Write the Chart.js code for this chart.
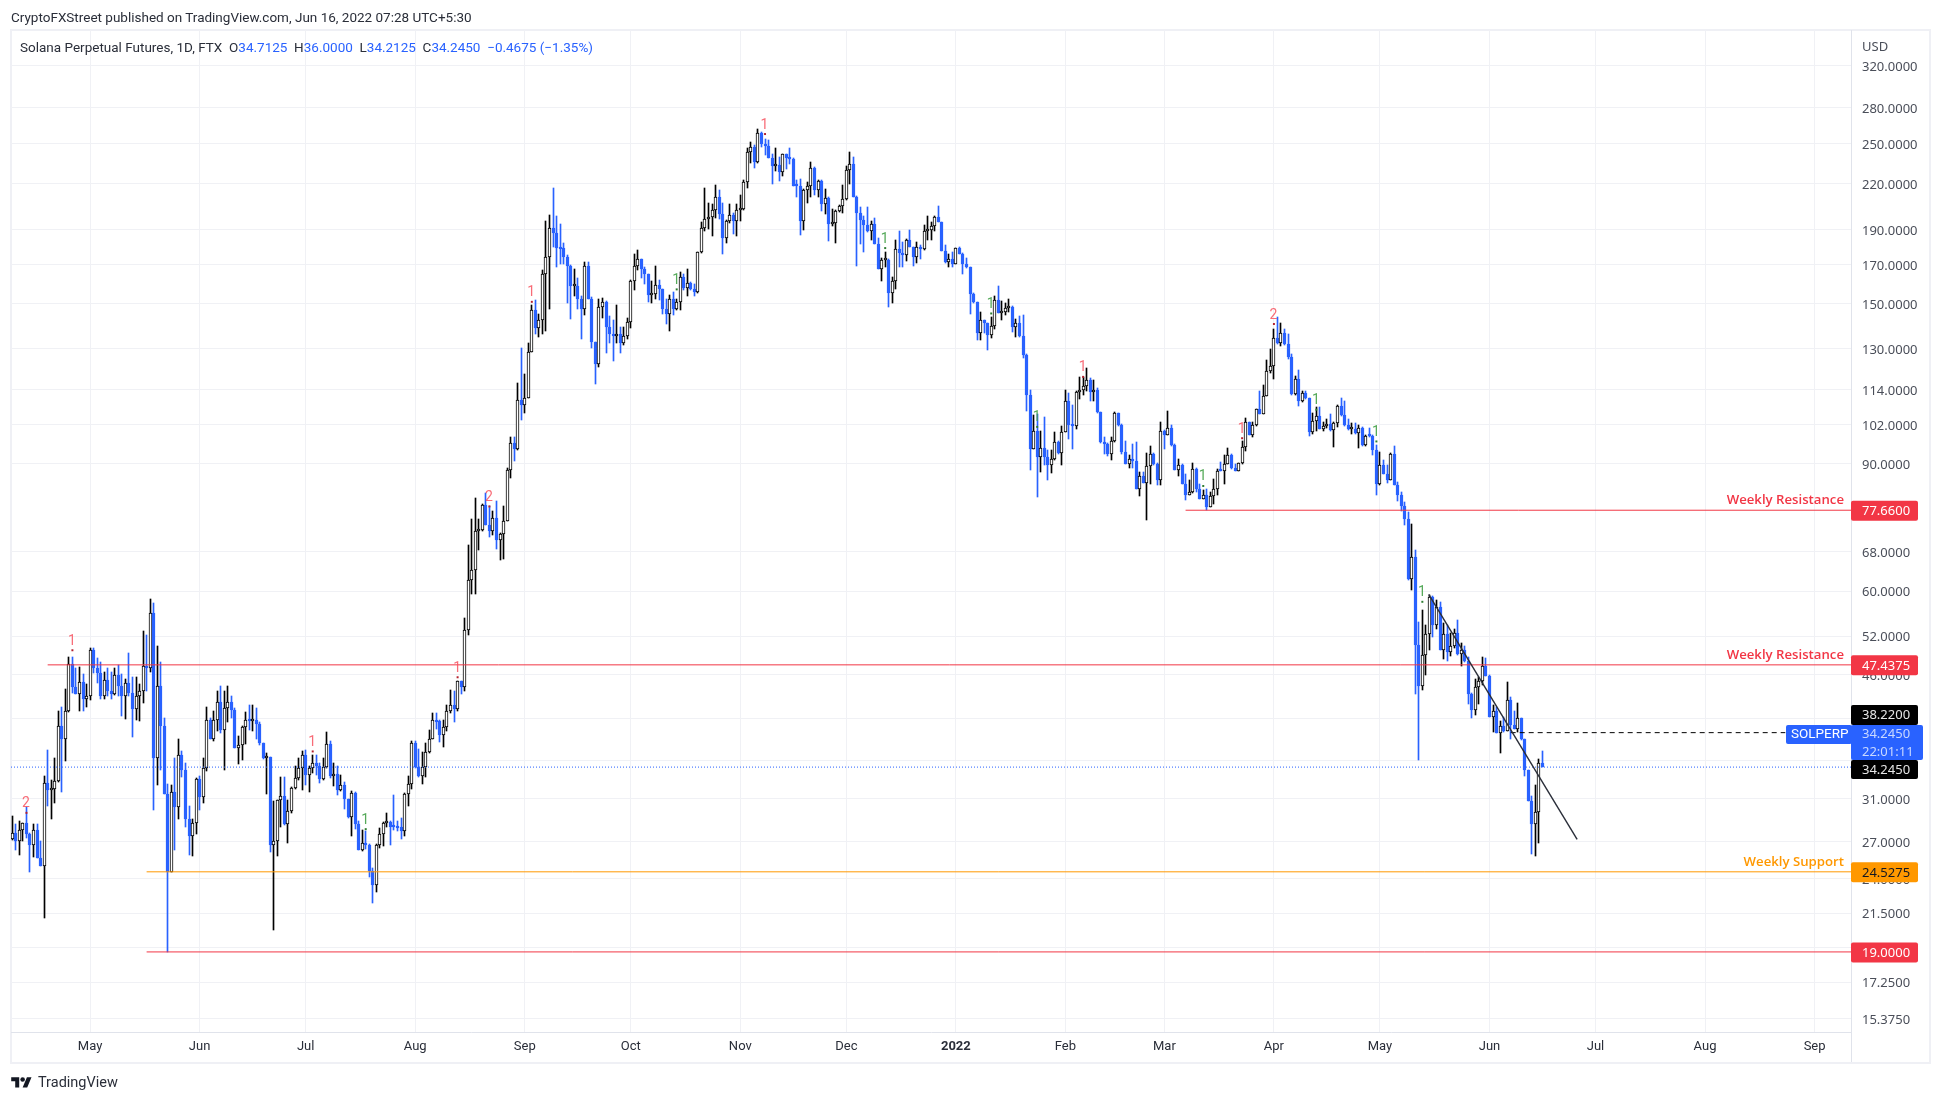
<!DOCTYPE html>
<html lang="en">
<head>
<meta charset="UTF-8" />
<title>Solana Perpetual Futures</title>
<script src="https://cdn.jsdelivr.net/npm/chart.js"></script>
<style>
  html, body { margin: 0; padding: 0; background: #fff; }
  body { width: 1940px; height: 1103px; position: relative; overflow: hidden; font-family: Roboto, sans-serif; color: #2a2e39; }
  #frame { position: absolute; left: 10px; top: 29px; width: 1917px; height: 1031px; border: 2px solid #eff0f5; box-sizing: content-box; }
  canvas { position: absolute; left: 0; top: 0; }
  #pub { position: absolute; left: 11px; top: 9px; font-size: 13.5px; white-space: nowrap; }
  #legend { position: absolute; left: 20px; top: 39px; font-size: 13.5px; white-space: pre; }
  #legend b { font-weight: 400; color: #2962ff; }
  #brand { position: absolute; left: 11px; top: 1074px; font-size: 14.5px; display: flex; align-items: center; gap: 6px; }
</style>
</head>
<body>
<div id="frame"></div>
<canvas id="chart" width="1940" height="1103"></canvas>
<div id="pub">CryptoFXStreet published on TradingView.com, Jun 16, 2022 07:28 UTC+5:30</div>
<div id="legend">Solana Perpetual Futures, 1D, FTX  O<b>34.7125</b>  H<b>36.0000</b>  L<b>34.2125</b>  C<b>34.2450</b>  <b>−0.4675 (−1.35%)</b></div>
<div id="brand"><svg width="21" height="16" viewBox="0 0 36 28"><path d="M14 22H7V11H0V4h14v18zM28 22h-8l7.5-18h8L28 22z" fill="#131722"/><circle cx="20" cy="8" r="4" fill="#131722"/></svg><span>TradingView</span></div>
<script>
// daily candles, first one is 9 Apr 2021
const opens = [27.2,27.8,27.1,28.0,28.65,27.7,26.7,28.0,25.6,25.0,
32.6,31.8,31.9,32.8,39.1,37.4,41.0,47.6,44.2,43.3,
44.9,42.5,43.0,49.7,47.0,46.2,42.9,45.2,43.7,43.3,
45.9,44.4,43.0,44.8,43.4,41.2,42.9,43.7,47.2,46.9,
56.0,35.2,44.3,39.1,31.4,24.55,31.6,30.2,35.6,33.9,
29.0,27.5,28.65,33.0,31.1,34.1,39.8,37.5,39.8,42.1,
38.5,41.3,42.1,41.1,36.4,36.8,38.9,39.8,39.7,39.8,
39.3,37.0,35.3,35.4,26.7,27.1,30.8,31.2,28.6,29.8,
32.0,33.1,34.1,35.6,33.4,34.1,34.7,34.4,33.0,34.3,
36.9,33.3,33.5,31.8,32.3,30.9,29.2,31.5,28.6,26.3,
26.9,26.7,24.6,23.5,26.7,27.7,28.65,28.75,28.35,28.35,
28.3,27.95,31.4,32.5,37.0,34.3,33.3,34.3,35.9,37.5,
39.8,39.7,37.9,38.9,40.9,41.8,41.2,45.0,44.2,53.0,
62.1,64.2,72.8,73.0,78.9,74.0,72.8,75.8,70.6,72.1,
75.1,88.2,96.2,94.3,110.2,108.5,111.0,128.6,146.9,139.0,
142.4,164.9,174.3,191.2,187.9,179.4,178.9,174.0,169.4,158.5,
158.9,152.1,147.3,169.1,152.4,132.7,123.9,148.2,150.7,139.2,
136.0,135.5,136.1,132.3,135.3,141.6,161.5,169.1,172.9,167.6,
164.9,154,154.5,159.3,157.1,147.3,145.1,152.3,147.6,150.7,
163.4,157.5,160.2,157.1,155.7,176.8,191.2,196.7,198,202.4,
210.5,199.8,184.8,195.1,199.3,195.1,202,203,221,243.6,
247.5,235.7,258.3,249.9,248.2,238.9,232.9,233.4,228,241.5,
238.4,238.2,219,218.6,195.1,215.7,218,231.2,215.7,221.8,
206.2,210,193.2,193.7,201.7,204.9,209.5,229.5,233.9,211,
200.5,195.8,193,189.2,193.4,181.2,167.6,172.2,172.6,155.1,
161.2,178.3,176.2,175.1,183.5,179.5,174.2,179.9,178.3,189.2,
189.6,192.4,197.6,194.4,177.6,171.1,172.7,170.3,178.9,176,
170.3,168.5,154.8,150.8,136.7,142.3,140.9,135.7,139.7,151.8,
145.6,146.1,147.9,148.2,139.1,141,135.3,127.3,112.3,94.5,
100.1,91.9,94.8,92.1,89.6,91.4,96.4,93.2,99.7,110.1,
101.9,101.6,113.2,114.1,115.4,117.6,113.1,114,106.2,96.6,
95.9,92.8,96.7,105.9,101.9,93.5,89.9,91.4,90.8,83.1,
86.6,84.7,89.4,93,90,85.5,100.1,98.7,100.9,95.6,
88.2,89.7,84.5,81.6,82.2,88.5,83.2,80.6,81.5,78.5,
81.3,83,88.1,87.9,89.9,92.6,88.8,88.1,90.2,95,
102.8,98.8,101.9,107.2,105.5,111.7,120.9,123,134.3,132.2,
136.7,132,126.5,112.4,118,109.9,113,111,99.7,103.2,
104.9,100.7,101.5,102.2,100.2,102.6,108.3,105.2,101.9,100.5,
100.7,99.2,100.9,95.6,98.5,98.3,94,84.3,89.8,87.3,
85.4,93,84.2,81.6,78.8,75.5,62.4,67,50.6,44.4,
48.9,52.4,58.9,53.8,57,49.8,52.4,49.5,50.4,52.5,
49.1,49.8,48,43.3,41.1,44.2,45,47.3,45.8,40.2,
41,38.2,39,38.4,42.4,39.2,38.7,40,37.4,33.9,
30.7,28.6,29.7,34.7125];
const highs = [29.3,28.55,28.8,28.7,30.2,27.8,28.55,28.55,27.05,33.3,
36.2,32.9,35.3,40.9,41.5,43.9,48.7,48.7,46.9,47.1,
46.1,44.6,50.0,50.0,48.5,47.8,46.3,46.9,46.4,46.9,
47.4,46.1,45.3,49.2,45.7,45.7,44.7,52.8,52.2,58.6,
57.8,50.3,47.8,40.1,32.5,32.3,35.3,37.4,36.0,34.7,
30.3,29.0,33.1,33.3,35.2,41.5,40.0,41.0,43.7,44.3,
43.6,44.3,43.0,41.4,37.8,39.0,40.8,41.8,41.8,41.4,
39.6,37.0,35.8,35.4,30.7,30.8,33.2,33.2,30.8,32.1,
34.4,35.3,36.1,36.2,34.4,35.6,35.6,34.7,35.3,38.3,
37.2,34.7,34.4,33.4,32.7,30.9,31.7,31.6,28.8,28.0,
27.9,26.8,24.8,26.8,28.2,28.75,29.6,28.85,31.3,28.85,
29.1,31.5,33.3,37.2,37.2,36.3,35.9,37.0,38.5,40.7,
40.7,39.8,39.8,41.8,43.8,43.7,45.1,45.1,55.0,69.6,
75.4,80.8,75.6,79.2,82.1,78.6,77.5,79.9,72.2,78.6,
88.9,98.0,98.0,116.6,130.3,119.9,132.3,149.3,151.6,145.2,
166.9,195.4,199.0,216.9,198.4,193.6,182.2,175.4,169.8,167.8,
162.8,153.8,171.3,171.3,153.2,132.7,152.4,152.9,151.4,144.2,
142.4,149.5,139.2,139.2,143.3,161.9,175.6,178.1,172.9,168.4,
164.9,161.5,169.1,161.9,157.3,152.4,154.1,155.5,152.4,165.9,
165.1,167.6,160.7,159.6,176.8,194.9,216.9,206.6,205.8,219,
215.2,206.6,196,205.8,200.1,205.8,212.2,222.6,246.6,250.9,
248.7,261.9,259,253.4,253,241.8,246.1,239.4,241.8,241.8,
246.1,238.4,222.8,223.3,216.4,221,235.4,231.7,222.3,222.6,
216.2,210.5,202.9,202.1,205.5,219,233,243.1,239.4,211.5,
204.3,198.2,203.9,195.4,197.1,185.1,173.4,176.8,172.9,163.4,
183.5,188.9,182.6,184.6,189.6,179.9,182.6,180.6,192.6,198.4,
194.7,198.4,204.7,194.9,181,175.8,176.9,178.9,179.5,176.5,
173.6,168.5,155.1,151,146.1,142.6,141.2,143.9,153.6,158.6,
151.3,150.1,152.4,148.8,142.7,144.2,144.5,127.7,114,105.1,
105.6,100.1,104.6,94,94,99.5,96.7,101.6,113.8,112.7,
108.7,113.6,118.8,118.8,122.1,118.2,117.7,114.6,106.2,98.2,
96.2,98.2,106.2,105.9,102.1,96.8,92.5,95.9,96.4,87.7,
87.7,93.2,95.3,93.2,90.3,102.9,100.3,106.5,101.9,95.8,
91.4,90,87.1,85.4,90.2,88.8,84.5,82.8,83.2,82.3,
85.9,88.6,90.7,92.5,94.7,92.9,90.1,90.4,96.8,104.1,
103,102.8,107.4,113.7,115.7,125.3,130,138.3,143.9,141.1,
138.3,136.2,127.6,119.3,121.3,113.5,113.5,111.2,105.9,107.9,
107.9,103,103.9,105.6,103,108.7,111,110.1,103.9,102.4,
102.5,101.9,101.1,98.8,100.9,98.8,95.5,93.4,91.2,89.7,
93.2,95.3,85,82.2,79.6,77.3,74.3,68.5,54.4,56.5,
53.8,59.3,59,58.3,57.9,54.2,53.8,52.5,53.2,54.7,
50.8,50.4,48.6,43.4,45.4,45.6,48.7,48.5,45.9,41.8,
41.5,39.7,40.2,44.9,42.8,41,42,40.1,37.5,33.9,
31.2,32.3,35.1,36];
const lows = [27.15,26.3,25.85,27.1,27.3,24.5,25.7,25.6,25.0,21.2,
30.3,29.0,30.5,32.7,31.6,34.9,40.8,43.4,43.3,41.0,
41.0,41.5,42.4,46.2,44.8,42.6,42.6,43.0,42.6,43.1,
43.0,40.3,39.9,43.0,37.7,39.8,39.7,42.0,43.6,46.4,
29.9,32.3,33.9,31.4,19.0,24.5,26.3,29.0,33.2,28.3,
25.85,25.8,27.7,29.9,30.5,33.8,37.4,37.2,38.4,38.2,
33.9,39.6,40.0,36.4,34.6,35.0,36.9,38.6,38.4,37.5,
36.8,35.1,31.4,26.1,20.4,25.8,28.3,28.5,26.9,29.6,
31.9,32.9,31.8,32.3,31.6,33.6,33.4,32.6,32.9,34.1,
33.1,32.2,31.3,31.7,30.0,29.1,27.5,28.1,26.3,26.2,
26.4,24.1,22.2,23.0,26.5,26.6,28.3,26.7,28.0,27.9,
27.2,27.5,30.3,31.9,34.2,33.2,32.4,33.2,35.8,37.4,
38.7,37.1,36.5,38.4,40.7,39.6,40.9,43.2,43.6,52.2,
59.4,59.5,68.4,72.8,74.0,71.2,71.7,68.7,66.2,66.4,
75.0,86.0,90.9,94.0,103.5,106.0,111.0,128.6,136.4,135.1,
136.4,137.6,147.3,179.9,168.4,170.0,170.2,150.4,143,153.9,
147.3,134,144.6,152.4,130.3,116,122.6,143.4,128.3,132.3,
124.8,132.3,128.3,131.6,133.9,138.9,156.8,166.9,162.8,159.9,
150.9,150.4,152.4,151.6,145,140.8,137.7,144.5,147.1,147.1,
156.8,153.5,156.8,153.5,155.2,176.4,189.1,190.6,186.3,196.9,
196.7,175.9,181.9,194.2,187.4,186.3,195.1,202.2,216.7,234.9,
231.3,235.2,247,241.3,238.4,219.8,229,221.8,225.2,230.5,
234,218.6,210.9,186.5,189.7,206.6,210.9,212.2,210.9,201.3,
199.8,183,192.1,181.9,200.7,200.3,209,220,210.7,169.4,
181.6,176.6,188.4,183.6,181.2,167.6,161.5,168.6,148.5,150.1,
157.3,168.6,168.6,172,179.5,169.2,170.7,173,178,184,
184,189.4,194.4,177.2,170.9,168.4,168.5,170.3,175.6,164.9,
168.2,145,150.5,133.7,133.4,136.8,129.6,134.3,138.3,145.6,
142.3,144.5,146.1,137,134.8,134.8,126,106.4,88.2,94.5,
81,87.6,89.6,85.6,87.4,91,92.9,89.6,99.5,97.3,
94.3,100.6,110.6,112.3,113.7,109.9,109.9,106,96.3,93,
92.4,91,96.6,101.6,93,89.9,88.8,88.8,83.1,81.3,
84.6,75.2,84.3,89.6,84.1,84.1,94.5,98.6,95.4,88.2,
86.6,84.3,80.2,81.4,82.1,82.3,80.4,80.6,77.7,78.4,
79.1,81.6,87.9,84.3,89.9,88.6,88,88,90.1,93.7,
98.6,98,101.7,105.5,105.5,111.7,120.3,117.9,131.8,131,
131.6,125.9,112,112.2,108.4,109.7,110.8,98.4,98.9,100.1,
100.5,99.9,101,100,95,101.3,105,101.7,100.2,98.9,
98.9,94.7,95.4,95.4,98.2,92.6,81.6,84.1,87.1,84.8,
85.4,84.1,80.1,77.4,74,62.2,60.2,43.2,35,43.8,
45.9,49.7,51.9,53.2,49.8,48.4,48.1,48.8,50,48.9,
47.3,47.9,41.9,40.1,40.4,41.9,44.5,45.8,40.2,38.3,
38.2,35.8,38.3,38.4,37.4,38.7,38.3,37.3,33.3,30.7,
26,25.8,26.9,34.2125];
const closes = [27.8,27.1,28.0,28.65,27.7,26.7,28.0,25.6,25.0,32.6,
31.8,31.9,32.8,39.1,37.4,41.0,47.6,44.2,43.3,44.9,
42.5,43.0,49.7,47.0,46.2,42.9,45.2,43.7,43.3,45.9,
44.4,43.0,44.8,43.4,41.2,42.9,43.7,47.2,46.9,56.0,
35.2,44.3,39.1,31.4,24.55,31.6,30.2,35.6,33.9,29.0,
27.5,28.65,33.0,31.1,34.1,39.8,37.5,39.8,42.1,38.5,
41.3,42.1,41.1,36.4,36.8,38.9,39.8,39.7,39.8,39.3,
37.0,35.3,35.4,26.7,27.1,30.8,31.2,28.6,29.8,32.0,
33.1,34.1,35.6,33.4,34.1,34.7,34.4,33.0,34.3,36.9,
33.3,33.5,31.8,32.3,30.9,29.2,31.5,28.6,26.3,26.9,
26.7,24.6,23.5,26.7,27.7,28.65,28.75,28.3,28.3,28.2,
27.95,31.4,32.5,37.0,34.3,33.3,34.3,35.9,37.5,39.8,
39.6,37.9,38.9,40.9,41.8,41.2,45.0,44.2,53.0,62.1,
64.2,72.8,73.0,78.9,74.0,72.8,75.8,70.6,72.1,75.1,
88.2,96.2,94.3,110.2,108.5,111.0,128.6,146.9,139.0,142.4,
164.9,174.3,191.2,187.9,179.4,178.7,174.0,169.4,158.5,158.9,
152.1,147.3,169.1,152.4,132.7,123.9,148.2,150.7,139.2,136.0,
135.5,136.1,132.3,135.3,141.6,161.5,169.1,172.9,167.6,164.9,
154,154.5,159.3,157.1,147.3,145.1,152.3,147.6,150.7,163.4,
157.5,160.2,157.1,155.7,176.8,191.2,196.7,198,202.4,210.5,
199.8,184.8,195.1,199.3,195.1,202,203,221,243.6,247.5,
235.7,258.3,249.9,248.2,238.9,232.9,233.4,228,241.5,238.4,
238.2,218.6,218.6,195.1,215.7,218,231.2,215.7,221.8,206.2,
210,193.2,193.7,201.7,204.9,209.5,229.5,233.9,211,200.5,
195.8,193,189.2,193.4,181.2,167.6,172.2,172.6,155.1,161.2,
178.3,176.2,175.1,183.5,179.5,174.2,179.9,178.3,189.2,189.6,
192.4,197.6,194.4,177.6,171.1,172.7,170.3,178.9,176,170.3,
168.5,154.8,150.8,136.7,142.3,140.9,135.7,139.7,151.8,145.6,
146.1,147.9,148.2,139.1,141,135.3,127.3,112.3,94.5,100.1,
91.9,94.8,92.1,89.6,91.4,96.4,93.2,99.7,110.1,101.9,
101.6,113.2,114.1,115.4,117.6,113.1,114,106.2,96.6,95.9,
92.8,96.7,105.9,101.9,93.5,89.9,91.4,90.8,83.1,86.6,
84.7,89.4,93,90,85.5,100.1,98.7,100.9,95.6,88.2,
89.7,84.5,81.6,82.2,88.5,83.2,80.6,81.5,78.5,81.3,
83,88.1,87.9,89.9,92.6,88.8,88.1,90.2,95,102.8,
98.8,101.9,107.2,105.5,111.7,120.9,123,134.3,132.2,136.7,
132,126.5,112.4,118,109.9,113,111,99.7,103.2,104.9,
100.7,101.5,102.2,100.2,102.6,108.3,105.2,101.9,100.5,100.7,
99.2,100.9,95.6,98.5,98.3,94,84.3,89.8,87.3,85.4,
93,84.2,81.6,78.8,75.5,62.4,67,50.6,44.4,48.9,
52.4,58.9,53.8,57,49.8,52.4,49.5,50.4,52.5,49.1,
49.8,48,43.3,41.1,44.2,45,47.3,45.8,40.2,41,
38.2,39,38.4,42.4,39.2,38.7,40,37.4,33.9,30.7,
28.6,29.7,34.7125,34.245];

// axis labels (month ticks are candle numbers)
const monthDays = [23,54,84,115,146,176,207,237,268,299,327,358,388,419,449,480,511];
const monthLabels = ['May','Jun','Jul','Aug','Sep','Oct','Nov','Dec','2022','Feb','Mar','Apr','May','Jun','Jul','Aug','Sep'];
const priceTicks = [320,280,250,220,190,170,150,130,114,102,90,68,60,52,46,40,35,31,27,24,21.5,19.25,17.25,15.375];

// drawn levels
const levelPrices = [77.66,47.4375,24.5275,19];
const levelStart = [333,11,39,39];
const levelNames = ['Weekly Resistance','Weekly Resistance','Weekly Support',''];
const levelColors = ['#f23645','#f23645','#ff9800','#f23645'];
const trendDays = [401.8,443.8];
const trendPrices = [59.4,27.2];
const lastPrice = 34.245;
const refPrice = 38.22;
const refDays = [425,502.7];

// numbered signals over the candles
const signalDays = [5,18,86,101,127,136,148,189,214,248,278,291,304,338,349,358,370,387,400];
const signalPrices = [29.6,49.7,36.0,28.1,45.6,78.6,150.9,157,257.6,179.1,145.4,101.3,118.8,83.9,97.7,140.6,107,96.7,58];
const signalTexts = ['2','1','1','1','1','2','1','1','1','1','1','1','1','1','1','2','1','1','1'];
const signalKinds = ['r','r','r','g','r','r','r','g','r','g','g','g','r','g','r','r','g','g','g'];

const BLUE = '#2962ff', BLACK = '#000000';
const days = closes.map((_, i) => i + 1);
const isUp = days.map((_, i) => closes[i] >= opens[i]);

const xMin = 0.624, xMax = 521.3;
const yMin = 14.72, yMax = 358.9;

function roundTag(ctx, x, y, w, h, bg, lines, color) {
  ctx.fillStyle = bg;
  ctx.beginPath();
  ctx.roundRect(x, y, w, h, 2);
  ctx.fill();
  ctx.fillStyle = color;
  ctx.textAlign = 'left';
  ctx.textBaseline = 'middle';
  lines.forEach((t, i) => ctx.fillText(t, x + 11, y + h * (i + 0.5) / lines.length + 0.5));
}

const overlay = {
  id: 'overlay',
  beforeDatasetsDraw(chart) {
    // candles sit on whole pixels in the original
    chart.getSortedVisibleDatasetMetas().forEach(meta => {
      if (meta.type !== 'bar') return;
      meta.data.forEach(el => {
        el.x = Math.round(el.x - 0.5) + 0.5;
        el.y = Math.round(el.y);
        el.base = Math.round(el.base);
      });
    });
  },
  afterDraw(chart) {
    const ctx = chart.ctx, y = chart.scales.y, x = chart.scales.x, a = chart.chartArea;
    ctx.save();
    // axis divider runs down through the time axis
    ctx.strokeStyle = '#e0e3eb';
    ctx.lineWidth = 1;
    ctx.beginPath();
    ctx.moveTo(a.right + 0.5, a.top);
    ctx.lineTo(a.right + 0.5, 1062);
    ctx.stroke();

    // signal numbers
    ctx.font = '14px Roboto, sans-serif';
    ctx.textAlign = 'center';
    ctx.textBaseline = 'bottom';
    signalTexts.forEach((t, i) => {
      ctx.fillStyle = signalKinds[i] === 'r' ? 'rgba(247,82,95,0.85)' : 'rgba(67,160,71,0.9)';
      ctx.fillText(t, x.getPixelForValue(signalDays[i]) - 0.5, y.getPixelForValue(signalPrices[i]) - 2);
    });

    // level captions
    ctx.font = '600 13.2px "Open Sans", sans-serif';
    ctx.textAlign = 'right';
    ctx.textBaseline = 'alphabetic';
    levelNames.forEach((t, i) => {
      ctx.fillStyle = levelColors[i];
      ctx.fillText(t, a.right - 7, y.getPixelForValue(levelPrices[i]) - 6);
    });

    // price tags on the axis
    ctx.font = '13px "Noto Sans", sans-serif';
    const tagX = a.right, tagW = 67;
    levelPrices.forEach((p, i) => {
      const py = y.getPixelForValue(p);
      roundTag(ctx, tagX, py - 9.5, tagW, 20, levelColors[i], [p.toFixed(4)], i === 2 ? '#131722' : '#ffffff');
    });
    const lastY = y.getPixelForValue(lastPrice);
    roundTag(ctx, tagX, lastY - 62, tagW, 20, BLACK, [refPrice.toFixed(4)], '#e6e6e6');
    roundTag(ctx, tagX, lastY - 7, tagW, 19, BLACK, [lastPrice.toFixed(4)], '#e6e6e6');
    roundTag(ctx, tagX, lastY - 42, 72, 35, BLUE, [lastPrice.toFixed(4), '22:01:11'], '#c9d8ff');
    ctx.font = '13.5px Roboto, sans-serif';
    ctx.fillStyle = BLUE;
    ctx.beginPath();
    ctx.roundRect(tagX - 65, lastY - 42, 66, 19, 2);
    ctx.fill();
    ctx.fillStyle = '#ffffff';
    ctx.textAlign = 'left';
    ctx.fillText('SOLPERP', tagX - 60, lastY - 32);

    // currency caption above the price ticks
    ctx.font = '13px "Noto Sans", sans-serif';
    ctx.fillStyle = '#4a4e59';
    ctx.fillText('USD', a.right + 11, 47);
    ctx.restore();
  }
};

const lineOpts = { type: 'line', pointRadius: 0, borderWidth: 1, fill: false, tension: 0, order: 2 };

new Chart(document.getElementById('chart'), {
  data: {
    datasets: [
      ...levelPrices.map((p, i) => ({
        ...lineOpts, label: 'level ' + p,
        data: [{ x: levelStart[i], y: p }, { x: xMax, y: p }],
        borderColor: levelColors[i]
      })),
      { ...lineOpts, label: 'last price', data: [{ x: xMin, y: lastPrice }, { x: xMax, y: lastPrice }], borderColor: BLUE, borderDash: [1, 2] },
      { ...lineOpts, label: 'ref', data: [{ x: refDays[0], y: refPrice }, { x: refDays[1], y: refPrice }], borderColor: '#000', borderDash: [5, 4] },
      { ...lineOpts, label: 'trend', data: [{ x: trendDays[0], y: trendPrices[0] }, { x: trendDays[1], y: trendPrices[1] }], borderColor: '#2a2e39', borderWidth: 1.4, order: 1 },
      {
        type: 'line', label: 'signals', showLine: false, order: 1, pointStyle: 'rect', pointRadius: 1.4,
        data: signalDays.map((d, i) => ({ x: d, y: signalPrices[i] })),
        pointBackgroundColor: signalKinds.map(k => k === 'r' ? '#b3202c' : '#2e7d32'),
        pointBorderWidth: 0
      },
      {
        type: 'bar', label: 'bodies', order: 5, grouped: false, barThickness: 3, minBarLength: 2,
        data: days.map((d, i) => ({ x: d, y: [Math.min(opens[i], closes[i]), Math.max(opens[i], closes[i])] })),
        backgroundColor: isUp.map(u => u ? '#ffffff' : BLUE),
        borderColor: isUp.map(u => u ? BLACK : BLUE),
        borderWidth: 1, borderSkipped: false
      },
      {
        type: 'bar', label: 'wicks', order: 6, grouped: false, barThickness: 1,
        data: days.map((d, i) => ({ x: d, y: [lows[i], highs[i]] })),
        backgroundColor: isUp.map(u => u ? BLACK : BLUE),
        borderWidth: 0
      }
    ]
  },
  options: {
    responsive: false,
    animation: false,
    devicePixelRatio: 1,
    layout: { padding: { left: 11, top: 30, right: 11, bottom: 41 } },
    plugins: { legend: { display: false }, tooltip: { enabled: false }, title: { display: false } },
    scales: {
      x: {
        type: 'linear', min: xMin, max: xMax, offset: false,
        afterBuildTicks: s => { s.ticks = monthDays.map(v => ({ value: v })); },
        afterFit: s => { s.height = 30; },
        grid: { color: '#f0f1f5', drawTicks: false, offset: false },
        border: { color: '#e0e3eb' },
        ticks: {
          autoSkip: false, maxRotation: 0, padding: 7, color: '#2a2e39',
          font: ctx => ({ family: 'Roboto, sans-serif', size: 13, weight: ctx.tick && ctx.tick.value === 268 ? 'bold' : 'normal' }),
          callback: (v, i) => monthLabels[i]
        }
      },
      y: {
        type: 'logarithmic', position: 'right', min: yMin, max: yMax,
        afterBuildTicks: s => { s.ticks = priceTicks.map(v => ({ value: v })); },
        afterFit: s => { s.width = 78; },
        grid: { color: '#f0f1f5', drawTicks: false },
        border: { color: '#e0e3eb' },
        ticks: {
          autoSkip: false, padding: 11, crossAlign: 'near', color: '#4a4e59', labelOffset: 1.5,
          font: { family: '"Noto Sans", sans-serif', size: 13 },
          callback: v => (v === 19.25 ? '' : v.toFixed(4))
        }
      }
    }
  },
  plugins: [overlay]
});
</script>
</body>
</html>
